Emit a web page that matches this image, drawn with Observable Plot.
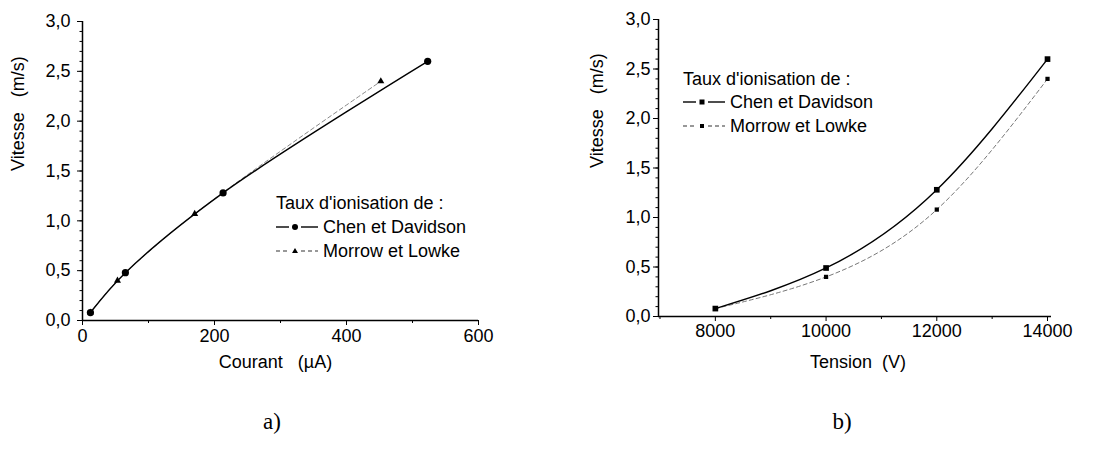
<!DOCTYPE html>
<html>
<head>
<meta charset="utf-8">
<script src="https://cdn.jsdelivr.net/npm/d3@7"></script>
<script src="https://cdn.jsdelivr.net/npm/@observablehq/plot@0.6"></script>
<style>
  html, body { margin: 0; padding: 0; background: white; }
  #root { position: relative; width: 1093px; height: 456px; overflow: hidden; font-family: "Liberation Sans", Arial, sans-serif; }
  .panel { position: absolute; top: 0; }
  .legend { position: absolute; font-size: 18px; color: #000; line-height: 1; }
  .legend .row { display: flex; align-items: center; height: 24px; white-space: nowrap; }
  .legend svg { margin-right: 5px; }
  .caption { position: absolute; font-family: "Liberation Serif", "DejaVu Serif", serif; font-size: 23px; transform: translate(-50%, -50%); }
</style>
</head>
<body>
<div id="root"></div>
<script>
// ---- Data: panel a) Vitesse vs Courant ----
const courantChen = [12, 65, 213, 523];
const vitesseChenA = [0.08, 0.48, 1.28, 2.6];
const courantMorrow = [12, 53, 170, 452];
const vitesseMorrowA = [0.08, 0.4, 1.07, 2.4];

// ---- Data: panel b) Vitesse vs Tension ----
const tension = [8000, 10000, 12000, 14000];
const vitesseChenB = [0.08, 0.49, 1.28, 2.6];
const vitesseMorrowB = [0.08, 0.4, 1.08, 2.4];

// ---- Tick labels ----
const yTicks = [0, 0.5, 1.0, 1.5, 2.0, 2.5, 3.0];
const xTicksA = [0, 200, 400, 600];
const xTicksB = [8000, 10000, 12000, 14000];

const legendTitle = "Taux d'ionisation de :";
const seriesNames = ["Chen et Davidson", "Morrow et Lowke"];

const fmt = d => d.toFixed(1).replace(".", ",");
const yMinor = d3.range(0, 31).map(i => i / 10);

const tableA1 = courantChen.map((x, i) => ({x, y: vitesseChenA[i]}));
const tableA2 = courantMorrow.map((x, i) => ({x, y: vitesseMorrowA[i]}));
const tableB1 = tension.map((x, i) => ({x, y: vitesseChenB[i]}));
const tableB2 = tension.map((x, i) => ({x, y: vitesseMorrowB[i]}));

const baseStyle = {fontFamily: "Liberation Sans, Arial, sans-serif", fontSize: "18px", color: "black", background: "transparent", overflow: "visible"};

const plotA = Plot.plot({
  width: 540, height: 380,
  marginLeft: 82, marginRight: 62, marginTop: 21, marginBottom: 60,
  x: {domain: [0, 600]},
  y: {domain: [0, 3]},
  style: baseStyle,
  marks: [
    Plot.axisY({ticks: yMinor, tickSize: 2.5, tickFormat: () => "", label: null}),
    Plot.axisY({ticks: yTicks, tickSize: 5, tickPadding: 7, tickFormat: fmt, label: null}),
    Plot.axisX({ticks: [100, 300, 500], tickSize: 3, tickFormat: () => "", label: null}),
    Plot.axisX({ticks: xTicksA, tickSize: 5, tickPadding: 4, tickFormat: d => String(d), label: null}),
    Plot.ruleX([0], {stroke: "black", strokeWidth: 1.5}),
    Plot.ruleY([0], {stroke: "black", strokeWidth: 1.5}),
    Plot.line(tableA2, {x: "x", y: "y", curve: "catmull-rom", stroke: "#888", strokeWidth: 1, strokeDasharray: "4,3"}),
    Plot.line(tableA1, {x: "x", y: "y", curve: "catmull-rom", stroke: "black", strokeWidth: 1.4}),
    Plot.dot(tableA2, {x: "x", y: "y", symbol: "triangle", r: 2.6, fill: "black", stroke: "none"}),
    Plot.dot(tableA1, {x: "x", y: "y", symbol: "circle", r: 3.6, fill: "black", stroke: "none"}),
    Plot.text(["Vitesse   (m/s)"], {frameAnchor: "left", rotate: -90, dx: -64, fontSize: 18}),
    Plot.text(["Courant   (µA)"], {frameAnchor: "bottom", dy: 47, dx: -5, fontSize: 18})
  ]
});

const plotB = Plot.plot({
  width: 543, height: 380,
  marginLeft: 108, marginRight: 42, marginTop: 19, marginBottom: 64,
  x: {domain: [6973, 14072]},
  y: {domain: [0, 3]},
  style: baseStyle,
  marks: [
    Plot.axisY({ticks: yMinor, tickSize: 2.5, tickFormat: () => "", label: null}),
    Plot.axisY({ticks: yTicks, tickSize: 5, tickPadding: 3, tickFormat: fmt, label: null}),
    Plot.axisX({ticks: [7000, 9000, 11000, 13000], tickSize: 3, tickFormat: () => "", label: null}),
    Plot.axisX({ticks: xTicksB, tickSize: 5, tickPadding: 3, tickFormat: d => String(d), label: null}),
    Plot.ruleX([6973], {stroke: "black", strokeWidth: 1.5}),
    Plot.ruleY([0], {stroke: "black", strokeWidth: 1.5}),
    Plot.line(tableB2, {x: "x", y: "y", curve: "natural", stroke: "#777", strokeWidth: 1, strokeDasharray: "4,3"}),
    Plot.line(tableB1, {x: "x", y: "y", curve: "natural", stroke: "black", strokeWidth: 1.4}),
    Plot.dot(tableB2, {x: "x", y: "y", symbol: "square", r: 2.4, fill: "black", stroke: "none"}),
    Plot.dot(tableB1, {x: "x", y: "y", symbol: "square", r: 3.2, fill: "black", stroke: "none"}),
    Plot.text(["Vitesse   (m/s)"], {frameAnchor: "left", rotate: -90, dx: -61, fontSize: 18}),
    Plot.text(["Tension  (V)"], {frameAnchor: "bottom", dy: 51, dx: 3, fontSize: 18})
  ]
});

const root = document.getElementById("root");
const pa = document.createElement("div"); pa.className = "panel"; pa.style.left = "0px"; pa.appendChild(plotA); root.appendChild(pa);
const pb = document.createElement("div"); pb.className = "panel"; pb.style.left = "550px"; pb.appendChild(plotB); root.appendChild(pb);

function sample(kind, symbol) {
  const w = 42, h = 12, cy = 6, mid = 19;
  const dash = kind === 0 ? "" : 'stroke-dasharray="4,3"';
  const col = kind === 0 ? "black" : "#777";
  let mark;
  if (symbol === "circle") mark = `<circle cx="${mid}" cy="${cy}" r="3" fill="black"/>`;
  else if (symbol === "triangle") mark = `<path d="M${mid},${cy-3} L${mid+3},${cy+2} L${mid-3},${cy+2} Z" fill="black"/>`;
  else { const s = kind === 0 ? 5 : 4; mark = `<rect x="${mid - s/2}" y="${cy - s/2}" width="${s}" height="${s}" fill="black"/>`; }
  return `<svg width="${w}" height="${h}">` +
    `<line x1="0" x2="${mid - 6}" y1="${cy}" y2="${cy}" stroke="${col}" stroke-width="1.4" ${dash}/>` +
    `<line x1="${mid + 6}" x2="${w}" y1="${cy}" y2="${cy}" stroke="${col}" stroke-width="1.4" ${dash}/>` +
    `${mark}</svg>`;
}

function legend(left, top, symbols, rowH) {
  const div = document.createElement("div");
  div.className = "legend";
  div.style.left = left + "px";
  div.style.top = top + "px";
  div.innerHTML = `<div class="row" style="height:${rowH}px">${legendTitle}</div>` +
    seriesNames.map((n, i) => `<div class="row" style="height:${rowH}px">${sample(i, symbols[i])}<span>${n}</span></div>`).join("");
  root.appendChild(div);
}
legend(276, 191, ["circle", "triangle"], 24);
legend(683, 67, ["square", "square"], 23.5);

function caption(text, x, y) {
  const d = document.createElement("div");
  d.className = "caption"; d.textContent = text;
  d.style.left = x + "px"; d.style.top = y + "px";
  root.appendChild(d);
}
caption("a)", 272, 422);
caption("b)", 842, 422);
</script>
</body>
</html>
